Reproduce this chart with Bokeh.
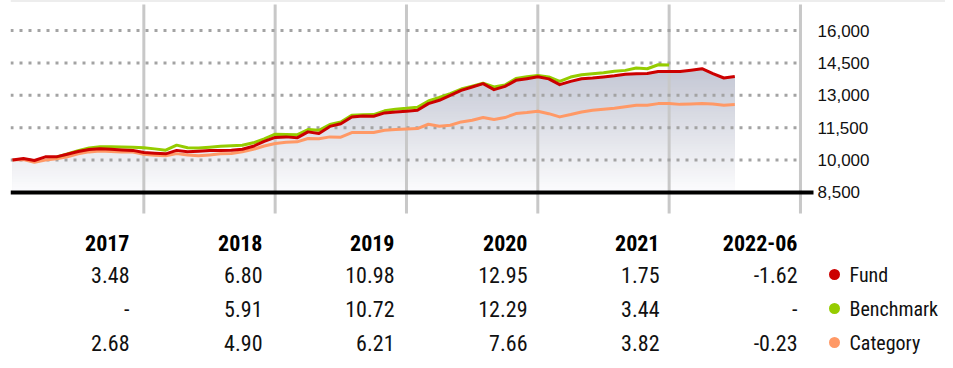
import numpy as np
from bokeh.plotting import figure
from bokeh.models import (Range1d, LinearAxis, FixedTicker, NumeralTickFormatter,
                          ColumnDataSource, LabelSet)
from bokeh.core.properties import value
from bokeh.embed import file_html
from bokeh.resources import INLINE

# ---------------- data ----------------
years = ["2017", "2018", "2019", "2020", "2021", "2022-06"]
fund_returns = ["3.48", "6.80", "10.98", "12.95", "1.75", "-1.62"]
bench_returns = ["-", "5.91", "10.72", "12.29", "3.44", "-"]
cat_returns = ["2.68", "4.90", "6.21", "7.66", "3.82", "-0.23"]
series_names = ["Fund", "Benchmark", "Category"]
y_ticks = [8500, 10000, 11500, 13000, 14500, 16000]
year_ends = [12, 24, 36, 48, 60, 72]   # month index of each year boundary

# growth of 10,000, monthly (month 0 = end of 2016)
fund = [10000, 10070, 9980, 10150, 10150, 10270, 10400, 10490, 10530, 10500,
        10470, 10450, 10348, 10320, 10290, 10450, 10390, 10410, 10440, 10450,
        10460, 10500, 10640, 10870, 11052, 11075, 11030, 11307, 11230, 11560,
        11680, 11998, 12045, 12030, 12185, 12230, 12266, 12308, 12615, 12770,
        13000, 13230, 13385, 13540, 13262, 13415, 13692, 13770, 13855, 13760,
        13492, 13646, 13770, 13800, 13846, 13900, 13970, 14000, 14010, 14100,
        14097, 14100, 14160, 14230, 14000, 13800, 13868]
bench_start = 4
bench = [10140, 10280, 10440, 10560, 10615, 10615, 10610, 10600, 10572, 10520,
         10460, 10692, 10570, 10560, 10600, 10640, 10660, 10690, 10800, 10980,
         11197, 11190, 11170, 11415, 11380, 11645, 11768, 12077, 12100, 12108,
         12280, 12360, 12397, 12450, 12738, 12900, 13077, 13290, 13420, 13560,
         13385, 13480, 13780, 13860, 13920, 13850, 13646, 13846, 13955, 14000,
         14046, 14110, 14154, 14260, 14230, 14415, 14399]
category = [10000, 10030, 9900, 10000, 10060, 10150, 10290, 10380, 10420, 10400,
            10380, 10370, 10268, 10230, 10200, 10300, 10240, 10200, 10240, 10290,
            10310, 10385, 10500, 10650, 10771, 10830, 10845, 11000, 10990, 11075,
            11060, 11275, 11280, 11275, 11385, 11420, 11440, 11460, 11660, 11570,
            11615, 11768, 11846, 11970, 11877, 11970, 12154, 12200, 12260, 12150,
            12000, 12108, 12230, 12308, 12354, 12400, 12470, 12538, 12540, 12615,
            12615, 12580, 12600, 12615, 12600, 12538, 12570]

fund_x = list(range(len(fund)))
bench_x = list(range(bench_start, bench_start + len(bench)))
cat_x = list(range(len(category)))

# ---------------- styles ----------------
C_FUND = "#cc0000"
C_BENCH = "#95cc00"
C_CAT = "#ff9966"
FONT_AX = "Liberation Sans"
FONT_TB = "Roboto Condensed, DejaVu Sans Condensed, Liberation Sans Narrow, Roboto"

W, H = 945, 360
LEFT = 10
PX_PER_MONTH = 10.944
x_lo = (LEFT - 12) / PX_PER_MONTH          # month 0 sits at 12px
x_hi = (W - 12) / PX_PER_MONTH
x_axis_pos = (813 - 12) / PX_PER_MONTH     # where the value axis / baseline end
y_lo, y_hi = 722.2, 17388.9                # 8,500 -> 192px, 16,000 -> 30px from top
grid_bottom, grid_top = 7527.8, 17203.7

p = figure(width=W, height=H, x_range=Range1d(x_lo, x_hi), y_range=Range1d(y_lo, y_hi),
           output_backend="svg", toolbar_location=None, x_axis_type=None, y_axis_type=None,
           min_border_left=LEFT, min_border_right=0, min_border_top=0, min_border_bottom=0)
p.outline_line_color = None
p.background_fill_color = "white"
p.border_fill_color = "white"
for g in p.grid:
    g.visible = False

# page-pixel ranges for the table below the chart
p.extra_x_ranges = {"tx": Range1d(LEFT, W)}
p.extra_y_ranges = {"ty": Range1d(H, 0)}

# thin rule along the top edge
p.segment(x0=[x_lo], x1=[x_hi], y0=[y_hi], y1=[y_hi], line_color="#dcdcdc", line_width=2)

# gradient fill under fund line (horizontal bands, top color first)
base = y_ticks[0]
top_val = y_ticks[-1]
fund_arr = np.array(fund, dtype=float)
n_bands = 60
edges = np.linspace(base, top_val, n_bands + 1)
top_rgb = np.array([178, 182, 199])
bot_rgb = np.array([252, 252, 253])
for k in range(n_bands - 1, -1, -1):
    mid = 0.5 * (edges[k] + edges[k + 1])
    frac = (mid - base) / (top_val - base)
    rgb = bot_rgb + (top_rgb - bot_rgb) * frac
    col = "#%02x%02x%02x" % tuple(int(round(c)) for c in rgb)
    upper = edges[k + 1] if k < n_bands - 1 else fund_arr.max() + 1
    p.varea(x=fund_x, y1=base, y2=np.minimum(fund_arr, upper), fill_color=col, fill_alpha=1.0)

# vertical year gridlines
p.segment(x0=year_ends, x1=year_ends, y0=[grid_bottom] * len(year_ends),
          y1=[grid_top] * len(year_ends), line_color="#c8c8c8", line_width=3)
# horizontal dotted gridlines
p.segment(x0=[x_lo] * (len(y_ticks) - 1), x1=[year_ends[-1]] * (len(y_ticks) - 1),
          y0=y_ticks[1:], y1=y_ticks[1:], line_color="#a3a3a3", line_width=3, line_dash="3 6")
# baseline
p.segment(x0=[x_lo], x1=[x_axis_pos], y0=[y_ticks[0]], y1=[y_ticks[0]],
          line_color="black", line_width=4)

# series
p.line(cat_x, category, line_color=C_CAT, line_width=3, line_join="round")
p.line(bench_x, bench, line_color=C_BENCH, line_width=3, line_join="round")
p.line(fund_x, fund, line_color=C_FUND, line_width=3, line_join="round")

ax = LinearAxis(ticker=FixedTicker(ticks=y_ticks), formatter=NumeralTickFormatter(format="0,0"),
                fixed_location=x_axis_pos)
ax.axis_line_color = None
ax.major_tick_line_color = None
ax.minor_tick_line_color = None
ax.major_tick_in = 0
ax.major_tick_out = 0
ax.major_label_standoff = 4
ax.major_label_text_font = FONT_AX
ax.major_label_text_font_size = "17px"
ax.major_label_text_color = "#111111"
p.add_layout(ax, "right")

# ---------------- table ----------------
col_right = [129, 262, 394, 527, 659, 797]
header_y = 242
row_y = [274, 308, 342]
dot_x = 834
label_x = 849

hdr_src = ColumnDataSource(dict(x=col_right, y=[header_y] * len(years), text=years))
p.add_layout(LabelSet(x="x", y="y", text="text", source=hdr_src,
                      x_range_name="tx", y_range_name="ty",
                      text_font=value(FONT_TB), text_font_style="bold", text_font_size="22px",
                      text_align="right", text_baseline="middle", text_color="#000000"))
vx, vy, vt = [], [], []
for vals, yy in zip([fund_returns, bench_returns, cat_returns], row_y):
    vx += col_right
    vy += [yy] * len(vals)
    vt += vals
val_src = ColumnDataSource(dict(x=vx, y=vy, text=vt))
p.add_layout(LabelSet(x="x", y="y", text="text", source=val_src,
                      x_range_name="tx", y_range_name="ty",
                      text_font=value(FONT_TB), text_font_size="22px",
                      text_align="right", text_baseline="middle", text_color="#111111"))

# legend: coloured dots + series names
p.scatter(x=[dot_x] * 3, y=row_y, marker="circle", size=11,
          fill_color=[C_FUND, C_BENCH, C_CAT], line_color=None,
          x_range_name="tx", y_range_name="ty")
leg_src = ColumnDataSource(dict(x=[label_x] * 3, y=row_y, text=series_names))
p.add_layout(LabelSet(x="x", y="y", text="text", source=leg_src,
                      x_range_name="tx", y_range_name="ty",
                      text_font=value(FONT_TB), text_font_size="20px",
                      text_align="left", text_baseline="middle", text_color="#111111"))

open("out.html", "w").write(file_html(p, INLINE))
